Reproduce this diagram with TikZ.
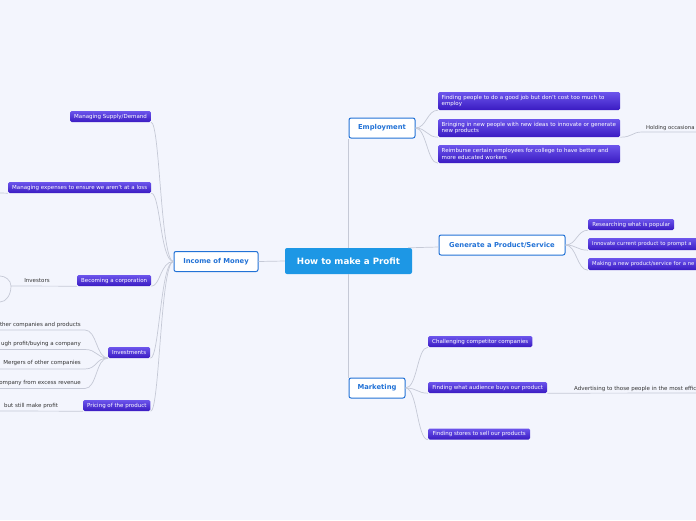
\documentclass[tikz,border=0pt]{standalone}
\usepackage{fontspec}
\setmainfont{DejaVu Sans}
\definecolor{bg}{HTML}{F3F5FD}
\definecolor{rootblue}{HTML}{1D97E5}
\definecolor{topicblue}{HTML}{2272D6}
\definecolor{subtop}{HTML}{6C55EC}
\definecolor{subbot}{HTML}{3A1BC2}
\definecolor{linegray}{HTML}{C5C9D6}
\definecolor{txt}{HTML}{333333}
\begin{document}
\begin{tikzpicture}[x=1pt,y=-1pt,
  rootbox/.style={fill=rootblue, rounded corners=2pt, text=white, inner sep=0pt,
    font=\fontsize{8.7}{10}\selectfont\bfseries, minimum width=127pt, minimum height=26pt},
  topicbox/.style={draw=topicblue, line width=1pt, fill=white, rounded corners=2pt,
    text=topicblue, inner sep=0pt, font=\fontsize{6.8}{8}\selectfont\bfseries, minimum height=20pt},
  subbox/.style={rounded corners=1.5pt, top color=subtop, bottom color=subbot, text=white,
    inner ysep=0pt, inner xsep=4pt, font=\fontsize{5.5}{6.2}\selectfont, minimum height=11pt, anchor=west},
  twoline/.style={subbox, minimum height=18pt, inner xsep=3.5pt, text width=175pt, align=left},
  plain/.style={text=txt, inner sep=0pt, font=\fontsize{5.5}{6.2}\selectfont},
  conn/.style={draw=linegray, line width=0.7pt}
]
\useasboundingbox (0,0) rectangle (696,520);
\fill[bg] (0,0) rectangle (696,520);
\clip (0,0) rectangle (696,520);

% central and main topics
\node[rootbox] (root) at (348.5,261) {How to make a Profit};
\node[topicbox, minimum width=84pt] (iom) at (216,261.5) {Income of Money};
\node[topicbox, minimum width=66pt] (emp) at (382,128) {Employment};
\node[topicbox, minimum width=126pt] (gen) at (502,245) {Generate a Product/Service};
\node[topicbox, minimum width=56pt] (mkt) at (377,388) {Marketing};

% left subtopics
\node[subbox, minimum width=80pt] (msd) at (70,116.5) {Managing Supply/Demand};
\node[subbox, minimum width=142pt] (me) at (8,187.5) {Managing expenses to ensure we aren't at a loss};
\node[subbox, minimum width=73pt] (bc) at (77,280.5) {Becoming a corporation};
\node[subbox, minimum width=42pt] (inv) at (108,352.5) {Investments};
\node[subbox, minimum width=67pt] (pp) at (83,405.5) {Pricing of the product};

% employment subtopics
\node[twoline] (e1) at (438,101)
  {\mbox{Finding people to do a good job but don't cost too much to}\\\mbox{employ}};
\node[twoline] (e2) at (438,128)
  {\mbox{Bringing in new people with new ideas to innovate or generate}\\\mbox{new products}};
\node[twoline] (e3) at (438,154)
  {\mbox{Reimburse certain employees for college to have better and}\\\mbox{more educated workers}};

% generate subtopics
\node[subbox, minimum width=86pt] (g1) at (588,224.5) {Researching what is popular};
\node[subbox, minimum height=12pt, text width=112pt, align=left, font=\fontsize{5.3}{6}\selectfont] (g2) at (588,244) {\mbox{Innovate current product to prompt a}};
\node[subbox, minimum height=12pt, text width=112pt, align=left, font=\fontsize{5.3}{6}\selectfont] (g3) at (588,264) {\mbox{Making a new product/service for a ne}};

% marketing subtopics
\node[subbox, minimum width=103pt] (m1) at (428,341.5) {Challenging competitor companies};
\node[subbox, minimum width=119pt] (m2) at (428,387.5) {Finding what audience buys our product};
\node[subbox, minimum width=102pt] (m3) at (428,434) {Finding stores to sell our products};

% plain texts
\node[plain, anchor=west, font=\fontsize{5.3}{6}\selectfont] (hold) at (646,128) {Holding occasiona};
\node[plain, anchor=west] (adv) at (574,389) {Advertising to those people in the most effic};
\node[plain] (investors) at (37,280.5) {Investors};
\node[plain, anchor=south east] (i1) at (81,327.5) {ther companies and products};
\node[plain, anchor=south east] (i2) at (81,346.5) {ugh profit/buying a company};
\node[plain, anchor=south east] (i3) at (81,366) {Mergers of other companies};
\node[plain, anchor=south east] (i4) at (81,385.5) {ompany from excess revenue};
\node[plain, anchor=south west] (pt) at (4,408.5) {but still make profit};

% free ends
\coordinate (holdA) at (642,132);
\coordinate (holdB) at (696,132);
\coordinate (advB) at (696,393);
\coordinate (meB) at (0,193);
\coordinate (invJ) at (11,286);
\coordinate (invU) at (0,276);
\coordinate (invD) at (0,302);
\coordinate (i1B) at (0,330);
\coordinate (i2B) at (0,349.5);
\coordinate (i3B) at (0,369);
\coordinate (i4B) at (0,388.5);
\coordinate (ptB) at (0,411);

% root connectors
\draw[conn] (root.west) -- (iom.east);
\draw[conn] (root.north) -- (root.north |- emp.south);
\draw[conn] (root.south) -- (root.south |- mkt.north);
\draw[conn] ([xshift=-4pt]root.north east) -- ([yshift=-2pt]gen.west);

% income connectors
\foreach \c in {msd,me,bc,inv,pp}
  \draw[conn] (iom.west) .. controls +(-13,0) and +(9,0) .. (\c.south east);
% employment connectors
\foreach \c in {e1,e2,e3}
  \draw[conn] (emp.east) .. controls +(11,0) and +(-11,0) .. (\c.south west);
% generate connectors
\foreach \c in {g1,g2,g3}
  \draw[conn] (gen.east) .. controls +(11,0) and +(-11,0) .. (\c.south west);
% marketing connectors
\foreach \c in {m1,m2,m3}
  \draw[conn] (mkt.east) .. controls +(12,0) and +(-11,0) .. (\c.south west);

% further branches
\draw[conn] (e2.south east) .. controls +(12,0) and +(-10,0) .. (holdA) -- (holdB);
\draw[conn] (m2.south east) -- (advB);
\draw[conn] (me.south west) -- (meB);
\draw[conn] (bc.south west) -- (invJ);
\draw[conn] (invJ) .. controls +(0,-6) and +(5,0) .. (invU);
\draw[conn] (invJ) .. controls +(0,9) and +(6,0) .. (invD);
\draw[conn] (inv.south west) .. controls (96,357.5) and (97,330) .. (85,330) -- (i1B);
\draw[conn] (inv.south west) .. controls (96,357.5) and (97,349.5) .. (85,349.5) -- (i2B);
\draw[conn] (inv.south west) .. controls (96,357.5) and (97,369) .. (85,369) -- (i3B);
\draw[conn] (inv.south west) .. controls (96,357.5) and (97,388.5) .. (85,388.5) -- (i4B);
\draw[conn] (pp.south west) -- (ptB);
\end{tikzpicture}
\end{document}
